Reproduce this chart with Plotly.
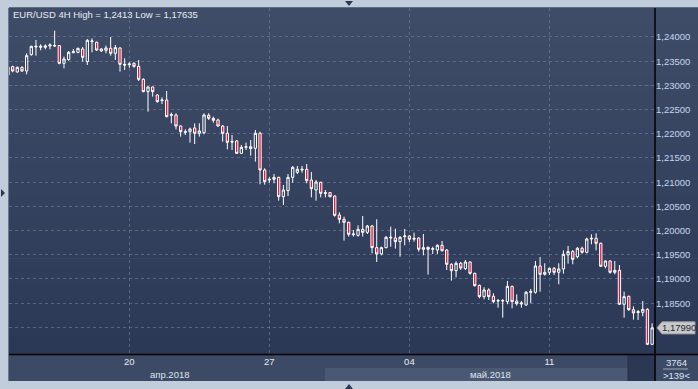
import plotly.graph_objects as go

# ---- data (EUR/USD 4H, 139 bars) ----
opens = [
    1.23215, 1.23387, 1.23277, 1.23373, 1.23298, 1.23635, 1.23793, 1.23787, 1.23787, 1.23814,
    1.23814, 1.23821, 1.23456, 1.23532, 1.23676, 1.23683, 1.23752, 1.23490, 1.23904, 1.23890,
    1.23752, 1.23725, 1.23766, 1.23663, 1.23773, 1.23435, 1.23428, 1.23456, 1.23394, 1.23125,
    1.22871, 1.22967, 1.22802, 1.22685, 1.22698, 1.22382, 1.22388, 1.22161, 1.22030, 1.22044,
    1.22120, 1.22010, 1.22023, 1.22382, 1.22320, 1.22285, 1.22161, 1.22010, 1.21844, 1.21851,
    1.21596, 1.21720, 1.21734, 1.21700, 1.22010, 1.21252, 1.21045, 1.21059, 1.21100, 1.20701,
    1.20825, 1.21100, 1.21204, 1.21252, 1.21266, 1.21045, 1.20839, 1.20997, 1.20784, 1.20784,
    1.20715, 1.20322, 1.20233, 1.20171, 1.19916, 1.19902, 1.20026, 1.19964, 1.20095, 1.19647,
    1.19517, 1.19647, 1.19847, 1.19847, 1.19771, 1.19875, 1.19888, 1.19840, 1.19847, 1.19613,
    1.19654, 1.19613, 1.19599, 1.19696, 1.19599, 1.19303, 1.19172, 1.19324, 1.19213, 1.19351,
    1.19117, 1.18869, 1.18635, 1.18773, 1.18642, 1.18545, 1.18545, 1.18532, 1.18848, 1.18545,
    1.18483, 1.18463, 1.18725, 1.18725, 1.19269, 1.19096, 1.19138, 1.19220, 1.19138, 1.19207,
    1.19496, 1.19565, 1.19461, 1.19634, 1.19551, 1.19826, 1.19840, 1.19737, 1.19262, 1.19372,
    1.19138, 1.19179, 1.18477, 1.18642, 1.18366, 1.18304, 1.18311, 1.18373, 1.17650,
]
highs = [
    1.23408, 1.23408, 1.23387, 1.23394, 1.23663, 1.23821, 1.23938, 1.23848, 1.23848, 1.23869,
    1.24130, 1.23835, 1.23594, 1.23711, 1.23752, 1.23780, 1.23793, 1.23959, 1.23972, 1.23904,
    1.23766, 1.23821, 1.24000, 1.23835, 1.23787, 1.23559, 1.23477, 1.23477, 1.23525, 1.23146,
    1.22981, 1.22974, 1.22815, 1.22753, 1.22884, 1.22437, 1.22423, 1.22175, 1.22092, 1.22127,
    1.22216, 1.22216, 1.22423, 1.22423, 1.22354, 1.22313, 1.22182, 1.22161, 1.21975, 1.21872,
    1.21769, 1.21817, 1.21872, 1.22079, 1.22044, 1.21287, 1.21100, 1.21169, 1.21114, 1.20942,
    1.21169, 1.21335, 1.21335, 1.21335, 1.21376, 1.21211, 1.21045, 1.21011, 1.20839, 1.20798,
    1.20729, 1.20377, 1.20288, 1.20185, 1.20012, 1.20109, 1.20302, 1.20116, 1.20116, 1.20233,
    1.19668, 1.19888, 1.20081, 1.20040, 1.19888, 1.20033, 1.19909, 1.19957, 1.19861, 1.19930,
    1.19668, 1.19668, 1.19716, 1.19785, 1.19613, 1.19324, 1.19365, 1.19351, 1.19393, 1.19365,
    1.19131, 1.18883, 1.18828, 1.18807, 1.18704, 1.18587, 1.18587, 1.18959, 1.18862, 1.18683,
    1.18545, 1.18752, 1.18793, 1.19372, 1.19455, 1.19324, 1.19234, 1.19248, 1.19324, 1.19592,
    1.19682, 1.19599, 1.19661, 1.19668, 1.19854, 1.19923, 1.19944, 1.19751, 1.19386, 1.19386,
    1.19372, 1.19289, 1.18738, 1.18656, 1.18435, 1.18360, 1.18545, 1.18394, 1.18084,
]
lows = [
    1.23146, 1.23270, 1.23263, 1.23277, 1.23229, 1.23614, 1.23614, 1.23725, 1.23745, 1.23745,
    1.23800, 1.23435, 1.23353, 1.23511, 1.23663, 1.23663, 1.23490, 1.23421, 1.23683, 1.23711,
    1.23697, 1.23663, 1.23614, 1.23525, 1.23284, 1.23318, 1.23366, 1.23366, 1.23091, 1.22857,
    1.22457, 1.22767, 1.22643, 1.22616, 1.22340, 1.22216, 1.22092, 1.21941, 1.21975, 1.21817,
    1.21789, 1.21941, 1.21989, 1.22285, 1.22230, 1.22147, 1.21837, 1.21679, 1.21665, 1.21583,
    1.21583, 1.21665, 1.21548, 1.21424, 1.20956, 1.20949, 1.20990, 1.20977, 1.20618, 1.20529,
    1.20715, 1.20990, 1.21169, 1.21197, 1.20977, 1.20687, 1.20618, 1.20687, 1.20687, 1.20687,
    1.20288, 1.20150, 1.19792, 1.19875, 1.19875, 1.19875, 1.19875, 1.19930, 1.19530, 1.19351,
    1.19489, 1.19634, 1.19668, 1.19627, 1.19461, 1.19696, 1.19764, 1.19771, 1.19565, 1.19489,
    1.19090, 1.19517, 1.19517, 1.19565, 1.19186, 1.18966, 1.19034, 1.19186, 1.19186, 1.19090,
    1.18842, 1.18601, 1.18580, 1.18566, 1.18497, 1.18408, 1.18201, 1.18477, 1.18394, 1.18449,
    1.18408, 1.18449, 1.18497, 1.18697, 1.18738, 1.19069, 1.19083, 1.19083, 1.18890, 1.19110,
    1.19317, 1.19303, 1.19427, 1.19523, 1.19530, 1.19716, 1.19592, 1.19248, 1.19220, 1.19110,
    1.19096, 1.18463, 1.18201, 1.18339, 1.18160, 1.18153, 1.18229, 1.17635, 1.17635,
]
closes = [
    1.23380, 1.23298, 1.23373, 1.23298, 1.23614, 1.23807, 1.23807, 1.23807, 1.23814, 1.23835,
    1.23821, 1.23456, 1.23545, 1.23683, 1.23697, 1.23766, 1.23580, 1.23931, 1.23917, 1.23731,
    1.23711, 1.23773, 1.23663, 1.23780, 1.23435, 1.23421, 1.23442, 1.23394, 1.23125, 1.22871,
    1.22967, 1.22871, 1.22664, 1.22698, 1.22354, 1.22395, 1.22161, 1.22044, 1.22044, 1.22099,
    1.22010, 1.22058, 1.22388, 1.22320, 1.22278, 1.22161, 1.22010, 1.21824, 1.21831, 1.21596,
    1.21720, 1.21734, 1.21693, 1.22010, 1.21252, 1.21011, 1.21059, 1.21100, 1.20701, 1.20839,
    1.21100, 1.21307, 1.21266, 1.21266, 1.21032, 1.20866, 1.21004, 1.20770, 1.20770, 1.20701,
    1.20315, 1.20233, 1.20171, 1.19923, 1.19930, 1.20026, 1.19964, 1.20095, 1.19647, 1.19517,
    1.19647, 1.19861, 1.19861, 1.19771, 1.19861, 1.19888, 1.19820, 1.19826, 1.19613, 1.19647,
    1.19613, 1.19627, 1.19696, 1.19585, 1.19303, 1.19172, 1.19324, 1.19227, 1.19351, 1.19117,
    1.18862, 1.18635, 1.18773, 1.18635, 1.18532, 1.18552, 1.18552, 1.18848, 1.18532, 1.18490,
    1.18504, 1.18725, 1.18738, 1.19269, 1.19096, 1.19138, 1.19220, 1.19138, 1.19207, 1.19510,
    1.19565, 1.19406, 1.19634, 1.19551, 1.19826, 1.19840, 1.19737, 1.19262, 1.19372, 1.19138,
    1.19179, 1.18477, 1.18635, 1.18366, 1.18298, 1.18325, 1.18373, 1.17650, 1.17990,
]
bar_index = list(range(len(opens)))

x_tick_bars = [26, 56, 86, 116]
x_tick_text = ["20", "27", "04", "11"]
month_labels = ["апр.2018", "май.2018"]
y_tick_vals = [1.180, 1.185, 1.190, 1.195, 1.200, 1.205, 1.210, 1.215, 1.220, 1.225, 1.230, 1.235, 1.240]
y_tick_text = ["" if v == 1.180 else f"{v:.5f}".replace(".", ",") for v in y_tick_vals]
title_text = "EUR/USD 4H High = 1,2413 Low = 1,17635"
last_price = closes[-1]
last_price_text = "1,17990"
bars_total = "3764"
bars_visible = ">139<"

assert len(opens) == len(highs) == len(lows) == len(closes) == 139

FONT = "Liberation Sans, Arial, sans-serif"
W, H = 698, 389
L, R, T, B = 9, 43, 8, 35
PW, PH = W - L - R, H - T - B


def px(xp):
    return (xp - L) / PW


def py(yp):
    return (H - B - yp) / PH


fig = go.Figure()
fig.add_trace(go.Candlestick(
    x=bar_index, open=opens, high=highs, low=lows, close=closes,
    increasing=dict(line=dict(color="#ffffff", width=1), fillcolor="rgba(0,0,0,0)"),
    decreasing=dict(line=dict(color="#ffffff", width=1), fillcolor="#e0143c"),
    whiskerwidth=0, hoverinfo="skip", showlegend=False,
))

shapes = []
# background gradient of chart + price panel
N = 40
top_c = (62, 76, 104)
bot_c = (44, 57, 86)
for i in range(N):
    t = i / (N - 1)
    c = tuple(round(top_c[k] + (bot_c[k] - top_c[k]) * t) for k in range(3))
    shapes.append(dict(type="rect", xref="paper", yref="paper",
                       x0=px(9), x1=px(698), y0=1 - (i + 1) / N, y1=1 - i / N + 0.002,
                       fillcolor="rgb(%d,%d,%d)" % c, line=dict(width=0), layer="below"))
# time axis panel
shapes.append(dict(type="rect", xref="paper", yref="paper", x0=px(9), x1=px(698), y0=py(381), y1=py(354),
                   fillcolor="#3d4a66", line=dict(width=0), layer="below"))
shapes.append(dict(type="rect", xref="paper", yref="paper", x0=px(325), x1=px(628), y0=py(381), y1=py(368),
                   fillcolor="#4b5873", line=dict(width=0), layer="below"))
shapes.append(dict(type="rect", xref="paper", yref="paper", x0=px(628), x1=px(655), y0=py(381), y1=py(354),
                   fillcolor="#2c3853", line=dict(width=0), layer="below"))
shapes.append(dict(type="line", xref="paper", yref="paper", x0=px(628), x1=px(628), y0=py(381), y1=py(354),
                   line=dict(color="#25304a", width=1), layer="below"))
# black separators
shapes.append(dict(type="line", xref="paper", yref="paper", x0=px(655), x1=px(655), y0=py(381), y1=py(8),
                   line=dict(color="#000000", width=1.5), layer="above"))
shapes.append(dict(type="line", xref="paper", yref="paper", x0=px(9), x1=px(698), y0=py(354.5), y1=py(354.5),
                   line=dict(color="#000000", width=1.5), layer="above"))
shapes.append(dict(type="line", xref="paper", yref="paper", x0=px(8.5), x1=px(8.5), y0=py(381), y1=py(8),
                   line=dict(color="#6b7890", width=1), layer="above"))
# bar counter separator
shapes.append(dict(type="line", xref="paper", yref="paper", x0=px(663), x1=px(688), y0=py(369), y1=py(369),
                   line=dict(color="#9aa6b8", width=1), layer="above"))
# last price marker
x_a, x_b, x_c = px(657), px(662), px(695)
dy = 0.00125
shapes.append(dict(type="path", xref="paper", yref="y",
                   path=f"M {x_a},{last_price} L {x_b},{last_price + dy} L {x_c},{last_price + dy} "
                        f"L {x_c},{last_price - dy} L {x_b},{last_price - dy} Z",
                   fillcolor="#c9c9c9", line=dict(color="#9a9a9a", width=1), layer="above"))
# small scroll arrows in the frame
shapes.append(dict(type="path", xref="paper", yref="paper",
                   path=f"M {px(345)},{py(1)} L {px(353)},{py(1)} L {px(349)},{py(6)} Z",
                   fillcolor="#2b3a52", line=dict(width=0), layer="above"))
shapes.append(dict(type="path", xref="paper", yref="paper",
                   path=f"M {px(345)},{py(389)} L {px(353)},{py(389)} L {px(349)},{py(384)} Z",
                   fillcolor="#2b3a52", line=dict(width=0), layer="above"))
shapes.append(dict(type="path", xref="paper", yref="paper",
                   path=f"M {px(1)},{py(189)} L {px(1)},{py(197)} L {px(5)},{py(193)} Z",
                   fillcolor="#2b3a52", line=dict(width=0), layer="above"))

annotations = [
    dict(text=title_text, xref="paper", yref="paper", x=px(11), y=py(15), xanchor="left", yanchor="middle",
         showarrow=False, font=dict(family=FONT, size=9.5, color="#e9edf3")),
    dict(text=month_labels[0], xref="paper", yref="paper", x=px(169), y=py(374.5), xanchor="center",
         yanchor="middle", showarrow=False, font=dict(family=FONT, size=9.5, color="#dde4ef")),
    dict(text=month_labels[1], xref="paper", yref="paper", x=px(490), y=py(374.5), xanchor="center",
         yanchor="middle", showarrow=False, font=dict(family=FONT, size=9.5, color="#dde4ef")),
    dict(text=bars_total, xref="paper", yref="paper", x=px(676), y=py(362), xanchor="center",
         yanchor="middle", showarrow=False, font=dict(family=FONT, size=9.5, color="#dde4ef")),
    dict(text=bars_visible, xref="paper", yref="paper", x=px(676), y=py(375), xanchor="center",
         yanchor="middle", showarrow=False, font=dict(family=FONT, size=9.5, color="#dde4ef")),
    dict(text=last_price_text, xref="paper", yref="y", x=(x_b + x_c) / 2, y=last_price, xanchor="center",
         yanchor="middle", showarrow=False, font=dict(family=FONT, size=9.5, color="#1e2a3a")),
]

grid_col = "rgba(120,136,165,0.55)"
fig.update_layout(
    width=W, height=H, autosize=False,
    margin=dict(l=L, r=R, t=T, b=B, pad=0),
    paper_bgcolor="#c2cddb", plot_bgcolor="rgba(0,0,0,0)",
    shapes=shapes, annotations=annotations, showlegend=False,
    font=dict(family=FONT, size=9.5, color="#dfe6f0"),
    xaxis=dict(range=[0.22, 138.62], tickvals=x_tick_bars, ticktext=x_tick_text, showgrid=True,
               gridcolor=grid_col, griddash="3px,3px", gridwidth=1, zeroline=False, showline=False,
               ticks="", tickfont=dict(family=FONT, size=9.5, color="#e6ebf3"), rangeslider=dict(visible=False),
               fixedrange=True),
    yaxis=dict(range=[1.1745, 1.24599], side="right", tickvals=y_tick_vals, ticktext=y_tick_text,
               showgrid=True, gridcolor=grid_col, griddash="3px,3px", gridwidth=1, zeroline=False,
               showline=False, ticks="", tickfont=dict(family=FONT, size=9.5, color="#c6d6ee"),
               fixedrange=True),
)

fig.write_html(
    "out.html",
    config={"displayModeBar": False},
    post_script="document.body.style.margin='0px';document.body.style.background='#c2cddb';",
)
